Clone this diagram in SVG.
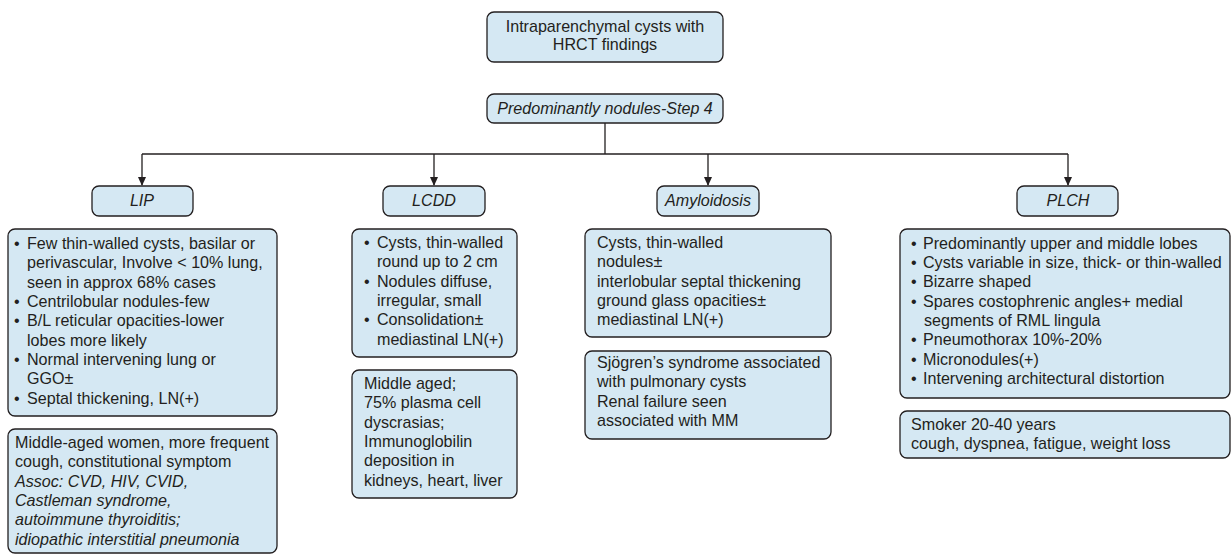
<svg xmlns="http://www.w3.org/2000/svg" width="1232" height="554" viewBox="0 0 1232 554">
<defs>
<marker id="ah" markerWidth="9" markerHeight="8" refX="8" refY="4" orient="auto" markerUnits="userSpaceOnUse" viewBox="0 0 9 8">
<path d="M0,0 L9,4 L0,8 Z" fill="#231f20"/>
</marker>
</defs>
<style>
.box{fill:#d5e8f3;stroke:#231f20;stroke-width:1.3}
.t{font-family:"Liberation Sans",Arial,sans-serif;font-size:16.1px;fill:#231f20}
.i{font-style:italic}
.c{text-anchor:middle}
.ln{stroke:#231f20;stroke-width:1.3;fill:none}
</style>
<rect width="1232" height="554" fill="#ffffff"/>
<g id="connectors">
<path class="ln" d="M605,123 V154"/>
<path class="ln" d="M142,154 H1068"/>
<path class="ln" d="M142,154 V185" marker-end="url(#ah)"/>
<path class="ln" d="M434,154 V185" marker-end="url(#ah)"/>
<path class="ln" d="M708,154 V185" marker-end="url(#ah)"/>
<path class="ln" d="M1068,154 V185" marker-end="url(#ah)"/>
</g>
<g id="root">
<rect class="box" x="487" y="12" width="236" height="50" rx="7"/>
<text class="t c" x="605" y="32">Intraparenchymal cysts with</text>
<text class="t c" x="605" y="50">HRCT findings</text>
</g>
<g id="step4">
<rect class="box" x="487" y="94" width="236" height="29" rx="7"/>
<text class="t c i" x="605" y="114">Predominantly nodules-Step 4</text>
</g>
<g id="lip">
<rect class="box" x="92" y="186" width="101" height="30" rx="7"/>
<text class="t c i" x="142" y="206">LIP</text>
</g>
<g id="lip-findings">
<rect class="box" x="8" y="229" width="269" height="187" rx="7"/>
<g class="t">
<text x="14" y="249">•</text><text x="27" y="249">Few thin-walled cysts, basilar or</text>
<text x="27" y="268">perivascular, Involve &lt; 10% lung,</text>
<text x="27" y="288">seen in approx 68% cases</text>
<text x="14" y="307">•</text><text x="27" y="307">Centrilobular nodules-few</text>
<text x="14" y="326">•</text><text x="27" y="326">B/L reticular opacities-lower</text>
<text x="27" y="346">lobes more likely</text>
<text x="14" y="365">•</text><text x="27" y="365">Normal intervening lung or</text>
<text x="27" y="384">GGO±</text>
<text x="14" y="404">•</text><text x="27" y="404">Septal thickening, LN(+)</text>
</g>
</g>
<g id="lip-clinical">
<rect class="box" x="8" y="429" width="269" height="124" rx="7"/>
<g class="t">
<text x="15" y="448">Middle-aged women, more frequent</text>
<text x="15" y="467">cough, constitutional symptom</text>
<text class="i" x="15" y="487">Assoc: CVD, HIV, CVID,</text>
<text class="i" x="15" y="506">Castleman syndrome,</text>
<text class="i" x="15" y="525">autoimmune thyroiditis;</text>
<text class="i" x="15" y="545">idiopathic interstitial pneumonia</text>
</g>
</g>
<g id="lcdd">
<rect class="box" x="383" y="186" width="102" height="30" rx="7"/>
<text class="t c i" x="434" y="206">LCDD</text>
</g>
<g id="lcdd-findings">
<rect class="box" x="352" y="229" width="165" height="128" rx="7"/>
<g class="t">
<text x="364" y="248">•</text><text x="377" y="248">Cysts, thin-walled</text>
<text x="377" y="267">round up to 2 cm</text>
<text x="364" y="287">•</text><text x="377" y="287">Nodules diffuse,</text>
<text x="377" y="306">irregular, small</text>
<text x="364" y="325">•</text><text x="377" y="325">Consolidation±</text>
<text x="377" y="345">mediastinal LN(+)</text>
</g>
</g>
<g id="lcdd-clinical">
<rect class="box" x="352" y="370" width="165" height="128" rx="7"/>
<g class="t">
<text x="364" y="389">Middle aged;</text>
<text x="364" y="408">75% plasma cell</text>
<text x="364" y="428">dyscrasias;</text>
<text x="364" y="447">Immunoglobilin</text>
<text x="364" y="466">deposition in</text>
<text x="364" y="486">kidneys, heart, liver</text>
</g>
</g>
<g id="amyloidosis">
<rect class="box" x="657" y="186" width="102" height="30" rx="7"/>
<text class="t c i" x="708" y="206">Amyloidosis</text>
</g>
<g id="amyloidosis-findings">
<rect class="box" x="585" y="229" width="246" height="108" rx="7"/>
<g class="t">
<text x="597" y="248">Cysts, thin-walled</text>
<text x="597" y="267">nodules±</text>
<text x="597" y="287">interlobular septal thickening</text>
<text x="597" y="306">ground glass opacities±</text>
<text x="597" y="325">mediastinal LN(+)</text>
</g>
</g>
<g id="amyloidosis-clinical">
<rect class="box" x="585" y="351" width="246" height="88" rx="7"/>
<g class="t">
<text x="597" y="368">Sjögren’s syndrome associated</text>
<text x="597" y="387">with pulmonary cysts</text>
<text x="597" y="407">Renal failure seen</text>
<text x="597" y="426">associated with MM</text>
</g>
</g>
<g id="plch">
<rect class="box" x="1017" y="186" width="101" height="30" rx="7"/>
<text class="t c i" x="1068" y="206">PLCH</text>
</g>
<g id="plch-findings">
<rect class="box" x="900" y="229" width="330" height="169" rx="7"/>
<g class="t">
<text x="911" y="249">•</text><text x="923" y="249">Predominantly upper and middle lobes</text>
<text x="911" y="268">•</text><text x="923" y="268">Cysts variable in size, thick- or thin-walled</text>
<text x="911" y="287">•</text><text x="923" y="287">Bizarre shaped</text>
<text x="911" y="307">•</text><text x="923" y="307">Spares costophrenic angles+ medial</text>
<text x="924" y="326">segments of RML lingula</text>
<text x="911" y="345">•</text><text x="923" y="345">Pneumothorax 10%-20%</text>
<text x="911" y="365">•</text><text x="923" y="365">Micronodules(+)</text>
<text x="911" y="384">•</text><text x="923" y="384">Intervening architectural distortion</text>
</g>
</g>
<g id="plch-clinical">
<rect class="box" x="900" y="411" width="330" height="47" rx="7"/>
<g class="t">
<text x="911" y="430">Smoker 20-40 years</text>
<text x="911" y="449">cough, dyspnea, fatigue, weight loss</text>
</g>
</g>
</svg>
